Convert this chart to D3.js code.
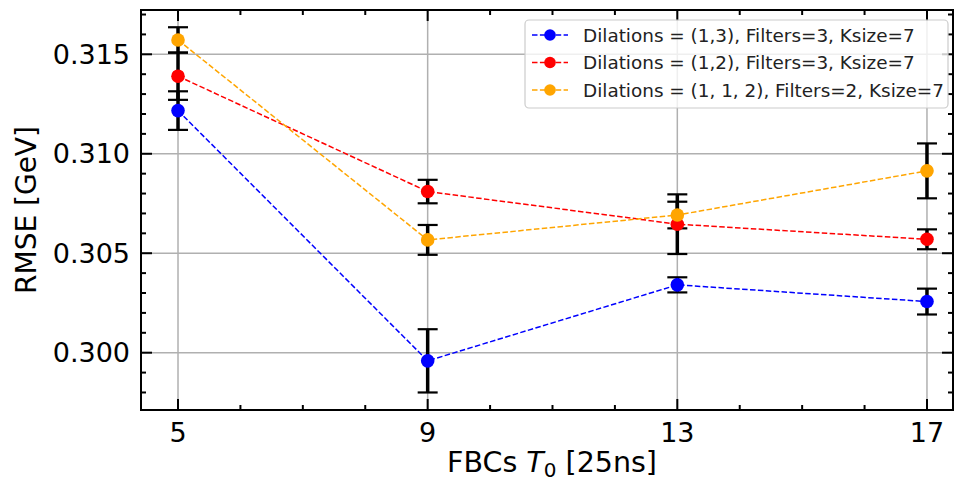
<!DOCTYPE html>
<html>
<head>
<meta charset="utf-8">
<script src="https://cdn.jsdelivr.net/npm/d3@7"></script>
<style>
  body { margin: 0; background: #fff; }
  svg { font-family: "DejaVu Sans", sans-serif; }
</style>
</head>
<body>
<div id="chart"></div>
<script>
// FBCs T0 values on the x axis
var fbcs = [5, 9, 13, 17];

// RMSE per configuration, and the error bar half-widths
var names = [
  "Dilations = (1,3), Filters=3, Ksize=7",
  "Dilations = (1,2), Filters=3, Ksize=7",
  "Dilations = (1, 1, 2), Filters=2, Ksize=7"
];
var colors = ["blue", "red", "orange"];
var rmse13 = [0.31217, 0.29959, 0.30341, 0.30257];
var err13 = [0.00097, 0.00159, 0.00038, 0.00065];
var rmse12 = [0.31390, 0.30810, 0.30646, 0.30570];
var err12 = [0.00119, 0.00059, 0.00150, 0.00050];
var rmse112 = [0.31572, 0.30567, 0.30692, 0.30914];
var err112 = [0.00064, 0.00075, 0.00067, 0.00138];

var xTicks = [5, 9, 13, 17];
var yTicks = [0.300, 0.305, 0.310, 0.315];

var series = [
  { name: names[0], color: colors[0], y: rmse13, err: err13 },
  { name: names[1], color: colors[1], y: rmse12, err: err12 },
  { name: names[2], color: colors[2], y: rmse112, err: err112 }
];

var width = 954, height = 482;
var margin = { top: 10, right: 1, bottom: 72, left: 141 };

var svg = d3.select("#chart").append("svg")
  .attr("width", width)
  .attr("height", height);

var xScale = d3.scaleLinear()
  .domain([4.407, 17.417])
  .range([margin.left, width - margin.right]);

var yScale = d3.scaleLinear()
  .domain([0.297119, 0.317227])
  .range([height - margin.bottom, margin.top]);

var x0 = margin.left, x1 = width - margin.right;
var y0 = height - margin.bottom, y1 = margin.top;

// grid
var grid = svg.append("g").attr("stroke", "#b0b0b0").attr("stroke-width", 1.5);
grid.selectAll(".gx").data(xTicks).join("line")
  .attr("x1", (d) => xScale(d)).attr("x2", (d) => xScale(d))
  .attr("y1", y0).attr("y2", y1);
grid.selectAll(".gy").data(yTicks).join("line")
  .attr("x1", x0).attr("x2", x1)
  .attr("y1", (d) => yScale(d)).attr("y2", (d) => yScale(d));

// error bars (drawn under the markers)
var bars = svg.append("g").attr("stroke", "black");
series.forEach(function (s) {
  var pts = fbcs.map((f, i) => ({ x: f, y: s.y[i], e: s.err[i] }));
  bars.append("g").attr("stroke-width", 3.5).selectAll("line").data(pts).join("line")
    .attr("x1", (d) => xScale(d.x)).attr("x2", (d) => xScale(d.x))
    .attr("y1", (d) => yScale(d.y - d.e)).attr("y2", (d) => yScale(d.y + d.e));
  var caps = pts.flatMap((d) => [d.y - d.e, d.y + d.e].map((v) => ({ x: d.x, v: v })));
  bars.append("g").attr("stroke-width", 2.2).selectAll("line").data(caps).join("line")
    .attr("x1", (d) => xScale(d.x) - 10).attr("x2", (d) => xScale(d.x) + 10)
    .attr("y1", (d) => yScale(d.v)).attr("y2", (d) => yScale(d.v));
});

// lines and markers
var line = d3.line().x((d) => xScale(d.x)).y((d) => yScale(d.y));
series.forEach(function (s) {
  var pts = fbcs.map((f, i) => ({ x: f, y: s.y[i] }));
  var g = svg.append("g");
  g.append("path").datum(pts)
    .attr("d", line)
    .attr("fill", "none")
    .attr("stroke", s.color)
    .attr("stroke-width", 1.5)
    .attr("stroke-dasharray", "5.5,2.4");
  g.selectAll("circle").data(pts).join("circle")
    .attr("cx", (d) => xScale(d.x))
    .attr("cy", (d) => yScale(d.y))
    .attr("r", 6.8)
    .attr("fill", s.color);
});

// ticks on all four sides, pointing in
var xMinor = d3.range(5, 18).filter((d) => xTicks.indexOf(d) < 0);
var yMinor = d3.range(298, 318).map((d) => d / 1000).filter((d) => yTicks.every((t) => Math.abs(t - d) > 1e-6));
var ticks = svg.append("g").attr("stroke", "black").attr("stroke-width", 2);
function xt(vals, len) {
  ticks.append("g").selectAll("line").data(vals).join("line")
    .attr("x1", (d) => xScale(d)).attr("x2", (d) => xScale(d))
    .attr("y1", y0).attr("y2", y0 - len);
  ticks.append("g").selectAll("line").data(vals).join("line")
    .attr("x1", (d) => xScale(d)).attr("x2", (d) => xScale(d))
    .attr("y1", y1).attr("y2", y1 + len);
}
function yt(vals, len) {
  ticks.append("g").selectAll("line").data(vals).join("line")
    .attr("x1", x0).attr("x2", x0 + len)
    .attr("y1", (d) => yScale(d)).attr("y2", (d) => yScale(d));
  ticks.append("g").selectAll("line").data(vals).join("line")
    .attr("x1", x1).attr("x2", x1 - len)
    .attr("y1", (d) => yScale(d)).attr("y2", (d) => yScale(d));
}
xt(xTicks, 11); xt(xMinor, 5);
yt(yTicks, 11); yt(yMinor, 5);

// frame
svg.append("rect")
  .attr("x", x0).attr("y", y1)
  .attr("width", x1 - x0).attr("height", y0 - y1)
  .attr("fill", "none").attr("stroke", "black").attr("stroke-width", 2);

// tick labels
svg.append("g").selectAll("text").data(xTicks).join("text")
  .attr("x", (d) => xScale(d)).attr("y", 442)
  .attr("text-anchor", "middle").attr("font-size", 27)
  .text((d) => d);
svg.append("g").selectAll("text").data(yTicks).join("text")
  .attr("x", 130).attr("y", (d) => yScale(d))
  .attr("dy", "0.36em")
  .attr("text-anchor", "end").attr("font-size", 27)
  .text((d) => d3.format(".3f")(d));

// axis labels
var xl = svg.append("text")
  .attr("x", 552).attr("y", 472)
  .attr("text-anchor", "middle").attr("font-size", 28.5);
xl.append("tspan").text("FBCs ");
xl.append("tspan").attr("font-style", "italic").text("T");
xl.append("tspan").attr("font-size", 20).attr("dy", 5).text("0");
xl.append("tspan").attr("dy", -5).text(" [25ns]");

svg.append("text")
  .attr("transform", `translate(36,${(y0 + y1) / 2}) rotate(-90)`)
  .attr("text-anchor", "middle").attr("font-size", 28)
  .text("RMSE [GeV]");

// legend
var legend = svg.append("g");
legend.append("rect")
  .attr("x", 525).attr("y", 20).attr("width", 423).attr("height", 88)
  .attr("rx", 4)
  .attr("fill", "white").attr("fill-opacity", 0.8)
  .attr("stroke", "#cccccc").attr("stroke-width", 1.2);
var rows = legend.selectAll(".row").data(series).join("g")
  .attr("transform", (d, i) => `translate(0,${35 + i * 27.5})`);
rows.append("line")
  .attr("x1", 532).attr("x2", 568)
  .attr("stroke", (d) => d.color).attr("stroke-width", 1.5)
  .attr("stroke-dasharray", "5.5,2.4");
rows.append("circle").attr("cx", 550).attr("r", 5.8).attr("fill", (d) => d.color);
rows.append("text")
  .attr("x", 583).attr("dy", "0.36em").attr("font-size", 18.4)
  .attr("fill", "#222")
  .text((d) => d.name);
</script>
</body>
</html>
